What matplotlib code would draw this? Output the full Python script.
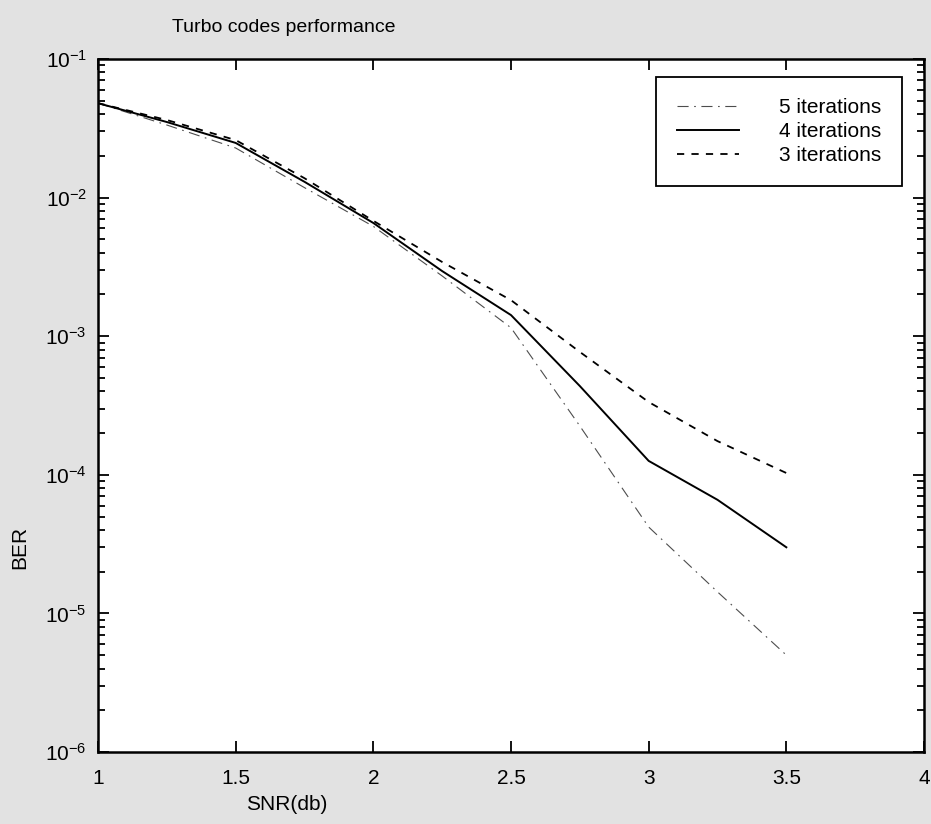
import numpy as np
import matplotlib
matplotlib.use('Agg')
import matplotlib.pyplot as plt
from matplotlib.ticker import LogLocator, NullFormatter

# SNR (dB) and BER
snr = [1.0, 1.25, 1.5, 1.75, 2.0, 2.25, 2.5, 2.75, 3.0, 3.25, 3.5]
ber_5it = [0.048, 0.0334, 0.0228, 0.0118, 0.0062, 0.00272, 0.00115, 2.25e-4, 4.2e-5, 1.43e-5, 5.0e-6]
ber_4it = [0.048, 0.0351, 0.0248, 0.0130, 0.00656, 0.00295, 0.00142, 4.37e-4, 1.26e-4, 6.6e-5, 3.0e-5]
ber_3it = [0.048, 0.0363, 0.0260, 0.0138, 0.0068, 0.00343, 0.00182, 7.7e-4, 3.35e-4, 1.75e-4, 1.03e-4]

labels = ['5 iterations', '4 iterations', '3 iterations']
xticks = [1, 1.5, 2, 2.5, 3, 3.5, 4]

plt.rcParams['font.family'] = ['Liberation Sans', 'DejaVu Sans']
plt.rcParams['mathtext.fontset'] = 'custom'
plt.rcParams['mathtext.rm'] = 'Liberation Sans'

fig = plt.figure(figsize=(9.31, 8.24), dpi=100, facecolor='#e2e2e2')
ax = fig.add_axes([98/931, 1 - 752/824, 826/931, 693/824])
ax.set_facecolor('white')

ax.plot(snr, ber_5it, color='0.3', lw=0.8, dashes=(10, 5, 1.5, 5), label=labels[0])
ax.plot(snr, ber_4it, color='black', lw=1.4, label=labels[1])
ax.plot(snr, ber_3it, color='black', lw=1.3, dashes=(4, 4), label=labels[2])

ax.set_yscale('log')
ax.set_xlim(1, 4)
ax.set_ylim(1e-6, 1e-1)
ax.set_xticks(xticks)
ax.set_xticklabels([str(t) for t in xticks])
ax.yaxis.set_major_locator(LogLocator(base=10, numticks=10))
ax.yaxis.set_minor_locator(LogLocator(base=10, subs=np.arange(2, 10), numticks=20))
ax.yaxis.set_minor_formatter(NullFormatter())

ax.tick_params(which='both', direction='in', top=True, right=True, width=1.3,
               labelsize=15, colors='black')
ax.tick_params(which='major', length=8)
ax.tick_params(which='minor', length=5)
ax.tick_params(axis='x', pad=12)
ax.tick_params(axis='y', pad=8)
for s in ax.spines.values():
    s.set_linewidth(1.8)

fig.text(284/931, 1 - 27/824, 'Turbo codes performance', ha='center', va='center', fontsize=14)
fig.text(287/931, 1 - 805/824, 'SNR(db)', ha='center', va='center', fontsize=15)
fig.text(20/931, 1 - 547/824, 'BER', ha='center', va='center', rotation=90, fontsize=15)

leg = ax.legend(loc='upper right', bbox_to_anchor=((902 - 98)/826, 1 - (77 - 59)/693),
                fontsize=15, frameon=True, fancybox=False, handlelength=3.0,
                handletextpad=1.9, borderpad=1.0, labelspacing=0.25, borderaxespad=0)
leg.get_frame().set_edgecolor('black')
leg.get_frame().set_linewidth(1.3)
leg.get_frame().set_alpha(1)

fig.savefig('out.png', dpi=100, facecolor=fig.get_facecolor())
